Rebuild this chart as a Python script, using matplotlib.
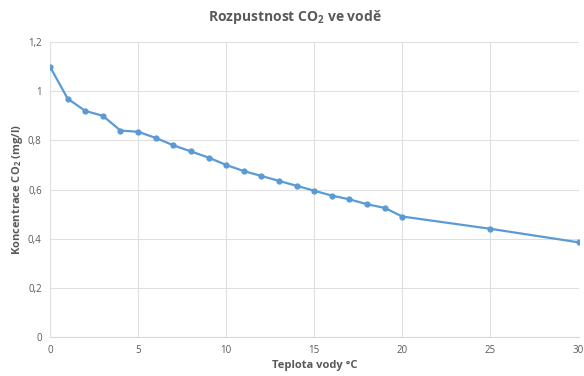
import matplotlib.pyplot as plt
from matplotlib.ticker import FixedLocator

# rozpustnost CO2 ve vode podle teploty
teplota = [0, 1, 2, 3, 4, 5, 6, 7, 8, 9, 10, 11, 12, 13, 14, 15, 16, 17, 18, 19, 20, 25, 30]
koncentrace = [1.1, 0.97, 0.92, 0.9, 0.84, 0.835, 0.81, 0.78, 0.755, 0.73, 0.70, 0.675,
               0.655, 0.635, 0.615, 0.595, 0.575, 0.56, 0.54, 0.525, 0.49, 0.44, 0.385]

x_ticks = [0, 5, 10, 15, 20, 25, 30]
y_ticks = [0, 0.2, 0.4, 0.6, 0.8, 1.0, 1.2]
y_labels = ['0', '0,2', '0,4', '0,6', '0,8', '1', '1,2']


def main():
    plt.rcParams['font.family'] = ['Open Sans', 'DejaVu Sans']
    plt.rcParams['mathtext.fontset'] = 'custom'
    plt.rcParams['mathtext.rm'] = 'Open Sans'
    plt.rcParams['mathtext.bf'] = 'Open Sans:bold'

    gray = '#595959'
    fig = plt.figure(figsize=(5.84, 3.76), dpi=100)
    ax = fig.add_axes([0.0856, 0.104, 0.905, 0.784])

    ax.plot(teplota, koncentrace, color='#5B9BD5', lw=1.6, marker='o', ms=3.5, zorder=3)

    ax.set_xlim(0, 30)
    ax.set_ylim(0, 1.2)
    ax.xaxis.set_major_locator(FixedLocator(x_ticks))
    ax.set_yticks(y_ticks)
    ax.set_yticklabels(y_labels)
    ax.grid(True, color='#e0e0e0', lw=0.8)
    ax.set_axisbelow(True)

    for side in ['top', 'right', 'left']:
        ax.spines[side].set_visible(False)
    ax.spines['bottom'].set_color('#d9d9d9')
    ax.tick_params(length=0, labelsize=7, labelcolor=gray, pad=6)

    # titulek je centrovany na celou plochu grafu
    fig.text(0.505, 0.955, r'Rozpustnost CO$_\mathbf{2}$ ve vodě', fontsize=10,
             fontweight='bold', color=gray, ha='center', va='center')
    ax.set_xlabel('Teplota vody °C', fontsize=8, fontweight='bold', color=gray, labelpad=3)
    ax.set_ylabel(r'Koncentrace CO$_\mathbf{2}$ (mg/l)', fontsize=8, fontweight='bold',
                  color=gray, labelpad=2)

    fig.savefig('out.png', dpi=100)


if __name__ == '__main__':
    main()
